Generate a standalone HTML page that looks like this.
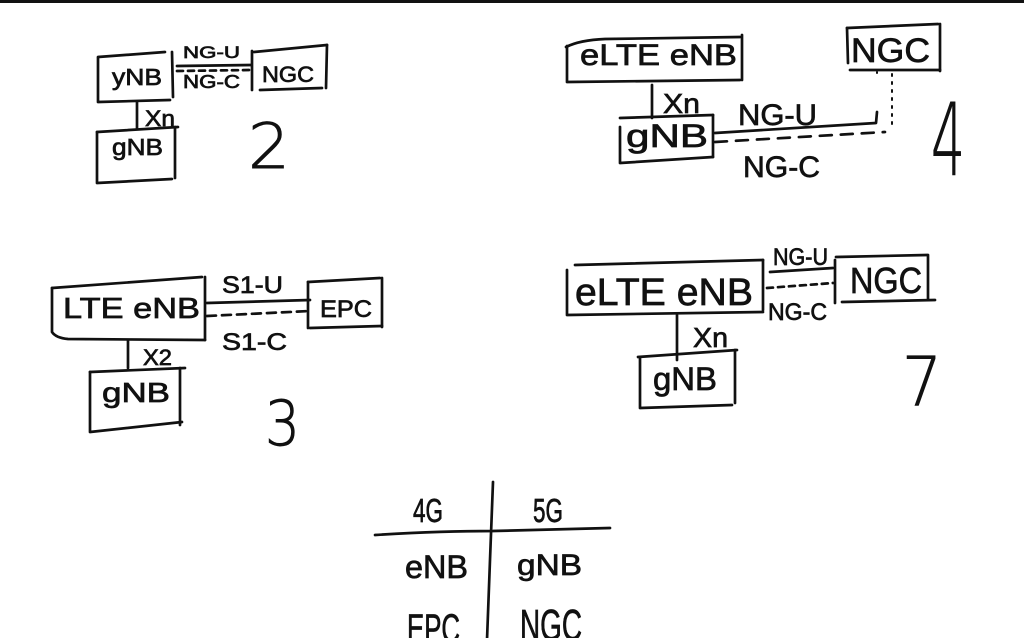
<!DOCTYPE html>
<html><head><meta charset="utf-8"><style>
html,body{margin:0;padding:0;background:#fff;}
svg{display:block;}
text{font-family:"Liberation Sans",sans-serif;fill:#111;stroke:#111;stroke-width:0.7;}
.n{font-family:"DejaVu Sans","Liberation Sans",sans-serif;font-weight:200;stroke-width:0.9;}
</style></head><body>
<svg width="1024" height="638" viewBox="0 0 1024 638" xmlns="http://www.w3.org/2000/svg">
<rect x="0" y="0" width="1024" height="638" fill="#fff"/>
<rect x="0" y="0" width="1024" height="3" fill="#111"/>
<g fill="none" stroke="#111" stroke-width="2.7" stroke-linecap="round" stroke-linejoin="round">
<!-- Diagram 2 -->
<path d="M98,57 L165,52"/>
<path d="M98,58 L98,102 L170,100"/>
<path d="M172,52 L173,97"/>
<path d="M177,66 L251,65"/>
<path d="M177,71 L251,70" stroke-dasharray="6,5"/>
<path d="M252,51 L252,90"/>
<path d="M254,52 L327,45"/>
<path d="M327,45 L326,88"/>
<path d="M260,90 L322,88"/>
<path d="M137,102 L137,128"/>
<path d="M97,132 L178,127"/>
<path d="M97,132 L97,183 L172,179"/>
<path d="M175,127 L175,178"/>
<!-- Diagram 4 -->
<path d="M566,47 Q580,40 605,39 L740,37"/>
<path d="M567,46 L567,82 L740,80"/>
<path d="M742,35 L742,80"/>
<path d="M847,28 L938,24"/>
<path d="M847,28 L848,63"/>
<path d="M940,24 L940,71"/>
<path d="M850,70 L940,70"/>
<path d="M892,74 L892,130" stroke-dasharray="2,6" stroke-width="2"/>
<path d="M877,72 L877,73" stroke-width="2"/>
<path d="M652,85 L652,118"/>
<path d="M620,118 L713,115"/>
<path d="M620,127 L620,163 L713,157"/>
<path d="M713,115 L713,157"/>
<path d="M715,133 L876,123 L877,112"/>
<path d="M715,142 L885,132" stroke-dasharray="12,9"/>
<!-- Diagram 3 -->
<path d="M52,288 L202,277"/>
<path d="M52,288 L52,332 Q56,338 68,339 L205,340"/>
<path d="M205,277 L205,340"/>
<path d="M207,303 L310,300"/>
<path d="M207,316 L310,311" stroke-dasharray="9,6"/>
<path d="M308,282 L380,278"/>
<path d="M308,282 L308,328"/>
<path d="M382,278 L382,327"/>
<path d="M310,328 L382,326"/>
<path d="M128,340 L128,368"/>
<path d="M90,372 L185,368"/>
<path d="M90,372 L90,432 L182,422"/>
<path d="M180,368 L180,425"/>
<!-- Diagram 7 -->
<path d="M575,265 L763,260"/>
<path d="M567,270 L567,315 L763,312"/>
<path d="M763,260 L763,310"/>
<path d="M770,272 L833,268"/>
<path d="M767,288 L833,283" stroke-dasharray="6,5"/>
<path d="M835,260 L835,303"/>
<path d="M836,257 L927,255"/>
<path d="M928,255 L928,300"/>
<path d="M842,302 L935,300"/>
<path d="M677,315 L677,360"/>
<path d="M638,357 L737,350"/>
<path d="M640,357 L640,408 L732,405"/>
<path d="M735,350 L735,403"/>
<!-- Table -->
<path d="M493,482 L490,560 L487,640"/>
<path d="M375,535 Q440,531 493,531 L610,528"/>
</g>
<!-- Diagram 2 text -->
<text x="112" y="85" font-size="23" textLength="50" lengthAdjust="spacingAndGlyphs">yNB</text>
<text x="183" y="58" font-size="17" textLength="57" lengthAdjust="spacingAndGlyphs">NG-U</text>
<text x="183" y="88" font-size="18" textLength="57" lengthAdjust="spacingAndGlyphs">NG-C</text>
<text x="262" y="82" font-size="22" textLength="52" lengthAdjust="spacingAndGlyphs">NGC</text>
<text x="145" y="126" font-size="22" textLength="30" lengthAdjust="spacingAndGlyphs">Xn</text>
<text x="112" y="155" font-size="23" textLength="51" lengthAdjust="spacingAndGlyphs">gNB</text>
<text class="n" x="248" y="168" font-size="62" textLength="42" lengthAdjust="spacingAndGlyphs">2</text>
<!-- Diagram 4 text -->
<text x="580" y="65" font-size="30" textLength="157" lengthAdjust="spacingAndGlyphs">eLTE eNB</text>
<text x="851" y="62" font-size="34" textLength="79" lengthAdjust="spacingAndGlyphs">NGC</text>
<text x="663" y="113" font-size="28" textLength="37" lengthAdjust="spacingAndGlyphs">Xn</text>
<text x="626" y="147" font-size="32" textLength="82" lengthAdjust="spacingAndGlyphs">gNB</text>
<text x="738" y="125" font-size="30" textLength="79" lengthAdjust="spacingAndGlyphs">NG-U</text>
<text x="743" y="177" font-size="30" textLength="77" lengthAdjust="spacingAndGlyphs">NG-C</text>
<text class="n" x="931" y="175" font-size="100" textLength="34" lengthAdjust="spacingAndGlyphs">4</text>
<!-- Diagram 3 text -->
<text x="63" y="318" font-size="29" textLength="137" lengthAdjust="spacingAndGlyphs">LTE  eNB</text>
<text x="222" y="293" font-size="24" textLength="61" lengthAdjust="spacingAndGlyphs">S1-U</text>
<text x="222" y="350" font-size="24" textLength="65" lengthAdjust="spacingAndGlyphs">S1-C</text>
<text x="320" y="317" font-size="24" textLength="52" lengthAdjust="spacingAndGlyphs">EPC</text>
<text x="143" y="365" font-size="22" textLength="29" lengthAdjust="spacingAndGlyphs">X2</text>
<text x="102" y="402" font-size="28" textLength="68" lengthAdjust="spacingAndGlyphs">gNB</text>
<text class="n" x="265" y="445" font-size="62" textLength="35" lengthAdjust="spacingAndGlyphs">3</text>
<!-- Diagram 7 text -->
<text x="575" y="305" font-size="38" textLength="178" lengthAdjust="spacingAndGlyphs">eLTE  eNB</text>
<text x="773" y="265" font-size="24" textLength="55" lengthAdjust="spacingAndGlyphs">NG-U</text>
<text x="768" y="320" font-size="24" textLength="59" lengthAdjust="spacingAndGlyphs">NG-C</text>
<text x="850" y="293" font-size="36" textLength="72" lengthAdjust="spacingAndGlyphs">NGC</text>
<text x="693" y="347" font-size="28" textLength="35" lengthAdjust="spacingAndGlyphs">Xn</text>
<text x="653" y="390" font-size="32" textLength="64" lengthAdjust="spacingAndGlyphs">gNB</text>
<text class="n" x="902" y="405" font-size="68" textLength="40" lengthAdjust="spacingAndGlyphs">7</text>
<!-- Table text -->
<text x="413" y="522" font-size="33" textLength="30" lengthAdjust="spacingAndGlyphs">4G</text>
<text x="533" y="522" font-size="33" textLength="30" lengthAdjust="spacingAndGlyphs">5G</text>
<text x="405" y="578" font-size="32" textLength="63" lengthAdjust="spacingAndGlyphs">eNB</text>
<text x="517" y="575" font-size="30" textLength="65" lengthAdjust="spacingAndGlyphs">gNB</text>
<text x="407" y="642" font-size="40" textLength="53" lengthAdjust="spacingAndGlyphs">EPC</text>
<text x="520" y="640" font-size="44" textLength="62" lengthAdjust="spacingAndGlyphs">NGC</text>
</svg>
</body></html>
